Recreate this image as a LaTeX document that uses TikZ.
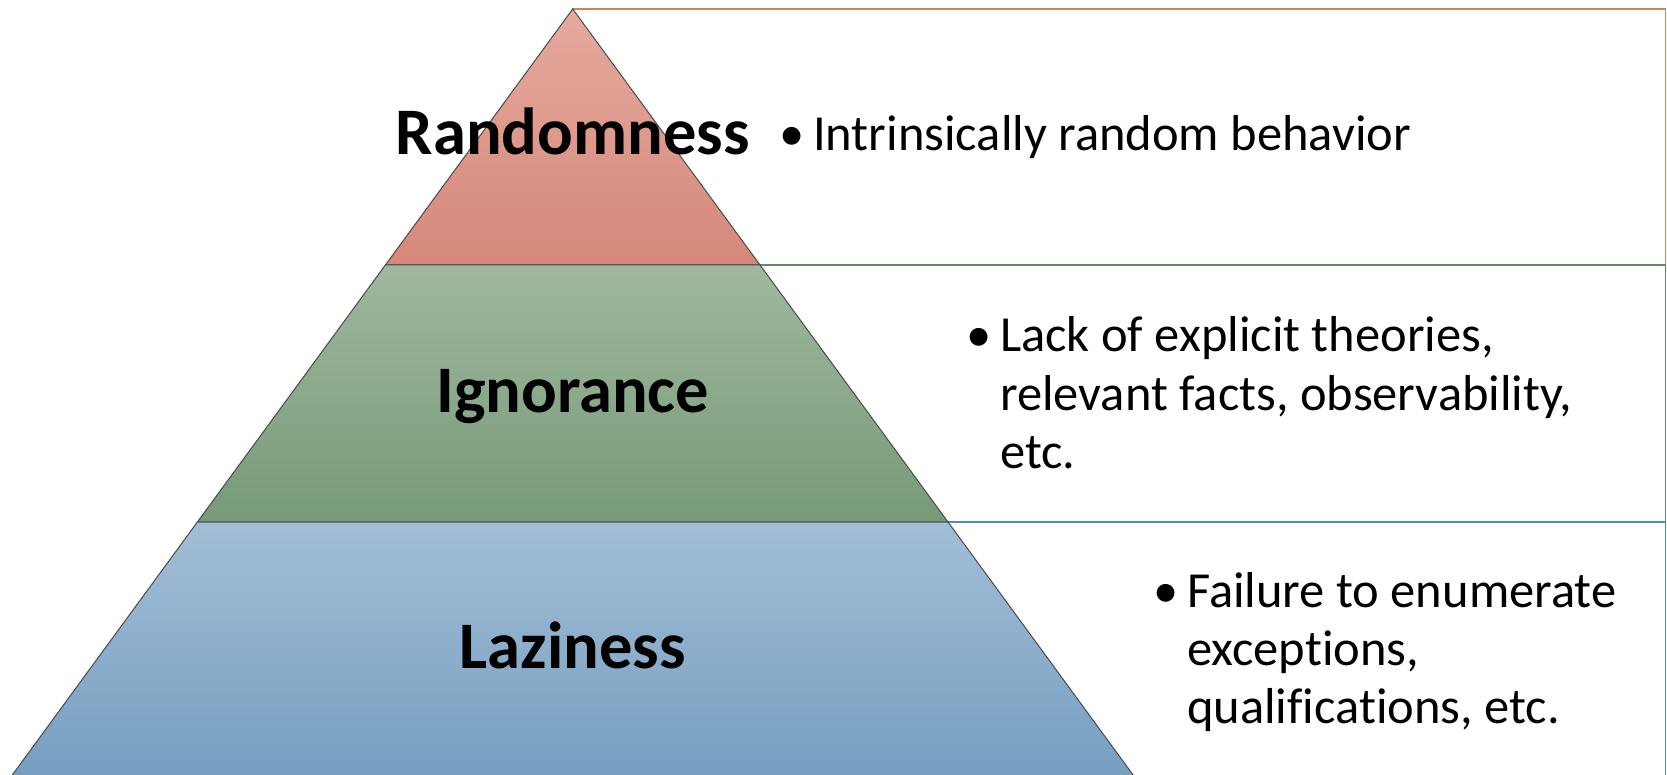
\documentclass[tikz,border=0pt]{standalone}
\usepackage{fontspec}
\setmainfont[Ligatures=NoCommon]{Carlito}
\definecolor{redtop}{HTML}{E5AA9E}
\definecolor{redbot}{HTML}{D5887A}
\definecolor{greentop}{HTML}{9FB89F}
\definecolor{greenbot}{HTML}{779A77}
\definecolor{bluetop}{HTML}{A3BED7}
\definecolor{bluebot}{HTML}{739DBF}
\definecolor{edgegray}{HTML}{4A4A4A}
\definecolor{boxorange}{HTML}{D0805C}
\definecolor{boxgreen}{HTML}{5E8F5E}
\definecolor{boxblue}{HTML}{4B8FBA}
\begin{document}
\begin{tikzpicture}[x=1pt,y=-1pt,
  band/.style={draw=edgegray, line width=1pt, line join=miter},
  listbox/.style={line width=1.6pt, fill=white},
  title/.style={font=\fontsize{66.5}{78}\selectfont\bfseries, anchor=base, inner sep=0pt},
  bul/.style={font=\fontsize{50.5}{58}\selectfont, anchor=base west, inner sep=0pt},
  itemtext/.style={font=\fontsize{50.5}{58}\selectfont, anchor=base west, inner sep=0pt}]
\useasboundingbox (0,0) rectangle (1667,775);
\clip (0,0) rectangle (1667,775);
% list boxes behind the pyramid
\draw[listbox, draw=boxorange] (572.7,9) rectangle (1665.5,265);
\draw[listbox, draw=boxgreen] (572.7,265) rectangle (1665.5,522);
\draw[listbox, draw=boxblue] (572.7,522) rectangle (1665.5,800);
% pyramid bands
\coordinate (apex) at (572.7,9);
\coordinate (l1) at (385.4,265);
\coordinate (r1) at (760,265);
\coordinate (l2) at (197.4,522);
\coordinate (r2) at (948,522);
\coordinate (l3) at (1.3,790);
\coordinate (r3) at (1144.1,790);
\path[band, top color=redtop, bottom color=redbot] (apex) -- (r1) -- (l1) -- cycle;
\path[band, top color=greentop, bottom color=greenbot] (l1) -- (r1) -- (r2) -- (l2) -- cycle;
\path[band, top color=bluetop, bottom color=bluebot] (l2) -- (r2) -- (r3) -- (l3) -- cycle;
% titles
\node[title] (tRand) at (572.7,155) {Randomness};
\node[title] (tIgn) at (572.7,412) {Ignorance};
\node[title] (tLaz) at (572.7,668) {Laziness};
% bullets and texts
\node[bul] (b1) at (779,151) {•};
\node[itemtext] (i1) at (813,151) {Intrinsically random behavior};
\node[bul] (b2) at (966,352) {•};
\node[itemtext] (i2a) at (1000,352) {Lack of explicit theories,};
\node[itemtext] (i2b) at (1000,410) {relevant facts, observability,};
\node[itemtext] (i2c) at (1000,468) {etc.};
\node[bul] (b3) at (1153,607) {•};
\node[itemtext] (i3a) at (1187,607) {Failure to enumerate};
\node[itemtext] (i3b) at (1187,665) {exceptions,};
\node[itemtext] (i3c) at (1187,723) {qualifications, etc.};
\end{tikzpicture}
\end{document}
